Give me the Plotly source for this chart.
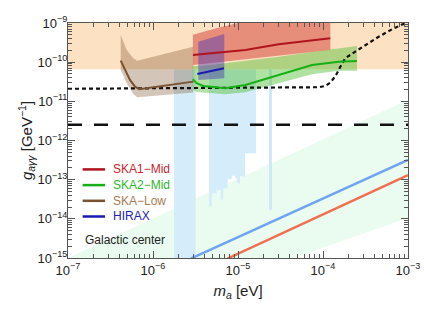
import numpy as np
import plotly.graph_objects as go

# ---- values (log10 of m_a [eV] and g [GeV^-1]) ----
cast_g = -10.18                      # horizontal excluded band (peach) lower edge
haloscope_line_g = -11.60            # long-dashed horizontal line

proj_m = [-7.0, -6.0, -5.0, -4.3, -4.051, -3.973, -3.914, -3.874, -3.835, -3.796,
          -3.738, -3.620, -3.502, -3.345, -3.188, -3.032, -2.95]
proj_g = [-10.68, -10.67, -10.655, -10.645, -10.640, -10.607, -10.523, -10.411, -10.283,
          -10.115, -9.90, -9.73, -9.56, -9.35, -9.16, -9.01, -8.92]

mint_m = [-7.0, -3.0, -3.0, -4.35]
mint_g = [-15.0, -10.96, -13.98, -15.0]

blue1_m = [-5.753, -5.498]
blue1_g = [-15.0, cast_g]
stair_m = [-5.341, -5.309, -5.251, -5.204, -5.173, -5.121, -5.074, -5.035, -5.015, -4.976, -4.918, -4.788]
stair_bottom = [-13.686, -13.344, -13.260, -13.515, -13.217, -12.987, -12.903, -12.962, -13.089, -12.921, -12.324]
thin_m = [-4.635, -4.600]
thin_bottom = -13.77

theory1_m = [-5.55, -3.0]
theory1_g = [-15.01, -12.495]
theory2_m = [-5.13, -3.0]
theory2_g = [-15.02, -12.886]

ska_low_m = [-6.380, -6.329, -6.271, -6.212, -6.161, -5.526]
ska_low_g = [-9.962, -10.199, -10.454, -10.625, -10.691, -10.497]
ska_low_band_m = [-6.380, -6.309, -6.232, -6.185, -5.526]
ska_low_band_hi = [-9.306, -9.689, -9.901, -9.962, -9.605]
ska_low_band_lo = [-10.199, -10.538, -10.811, -10.895, -10.773]

ska1_m = [-5.53, -5.306, -4.914, -4.521, -4.129, -3.914]
ska1_g = [-9.816, -9.773, -9.689, -9.543, -9.434, -9.390]
ska1_band_m = [-5.53, -5.2, -4.8, -4.4, -3.914]
ska1_band_hi = [-9.30, -9.10, -8.90, -8.75, -8.60]
ska1_band_lo = [-10.07, -10.00, -9.90, -9.80, -9.69]

ska2_m = [-5.533, -5.486, -5.408, -5.271, -5.153, -4.914, -4.521, -4.129, -3.815, -3.600]
ska2_g = [-10.436, -10.538, -10.607, -10.633, -10.666, -10.582, -10.327, -10.071, -9.987, -9.969]
ska2_band_hi = [-10.10, -10.10, -10.09, -10.06, -10.03, -9.97, -9.86, -9.74, -9.66, -9.59]
ska2_band_lo = [-10.70, -10.76, -10.79, -10.80, -10.82, -10.77, -10.53, -10.31, -10.22, -10.22]

hirax_m = [-5.479, -5.165]
hirax_g = [-10.301, -10.156]
hirax_band_m = [-5.467, -5.161]
hirax_band_hi = [-9.477, -9.281]
hirax_band_lo = [-10.454, -10.411]

legend_names = ["SKA1\u2212Mid", "SKA2\u2212Mid", "SKA\u2212Low", "HIRAX"]
legend_text_colors = ["#c4262c", "#2cb82c", "#a87a52", "#2424b4"]
legend_line_colors = ["#b0141e", "#16b016", "#7a5232", "#1a1ab0"]
region_label = "Galactic center"

x_ticks = [-7, -6, -5, -4, -3]
y_ticks = [-15, -14, -13, -12, -11, -10, -9]


def p(v):
    return list(10.0 ** np.asarray(v, dtype=float))


def minor_vals(decades):
    return [k * 10.0 ** d for d in decades[:-1] for k in range(2, 10)]


fig = go.Figure()


def poly(m, g, color, line_w=0):
    fig.add_trace(go.Scatter(x=p(m), y=p(g), fill="toself", fillcolor=color, mode="lines",
                             line=dict(width=line_w, color=color), hoverinfo="skip",
                             showlegend=False))


def band(m, hi, lo, color):
    poly(list(m) + list(m)[::-1], list(hi) + list(lo)[::-1], color)


def line(m, g, color, width, dash=None):
    fig.add_trace(go.Scatter(x=p(m), y=p(g), mode="lines",
                             line=dict(color=color, width=width, dash=dash),
                             hoverinfo="skip", showlegend=False))


# mint region
poly(mint_m, mint_g, "#eafcef")
# light blue vertical regions
poly([blue1_m[0], blue1_m[1], blue1_m[1], blue1_m[0]],
     [blue1_g[0], blue1_g[0], blue1_g[1], blue1_g[1]], "#d5ecfa")
sm, sg = [stair_m[0]], [cast_g]
for i, b in enumerate(stair_bottom):
    sm += [stair_m[i], stair_m[i + 1]]
    sg += [b, b]
sm.append(stair_m[-1])
sg.append(cast_g)
poly(sm, sg, "#d5ecfa")
poly([thin_m[0], thin_m[1], thin_m[1], thin_m[0]],
     [thin_bottom, thin_bottom, cast_g, cast_g], "#cfe8f8")
# peach excluded band
poly([-7, -3, -3, -7], [cast_g, cast_g, -8.5, -8.5], "#fde1c3")

# theory lines
line(theory1_m, theory1_g, "#6ea4f2", 2.5)
line(theory2_m, theory2_g, "#f26e50", 2.5)

# sensitivity bands
band(ska_low_band_m, ska_low_band_hi, ska_low_band_lo, "rgba(130,90,50,0.35)")
band(ska1_band_m, ska1_band_hi, ska1_band_lo, "rgba(210,60,50,0.5)")
band(ska2_m, ska2_band_hi, ska2_band_lo, "rgba(80,190,50,0.45)")
band(hirax_band_m, hirax_band_hi, hirax_band_lo, "rgba(70,50,180,0.45)")

# reference lines
line([-7, -3], [haloscope_line_g, haloscope_line_g], "#111111", 2.5, "14px,12px")
line(proj_m, proj_g, "#111111", 2.2, "4px,3px")

# sensitivity curves
line(ska_low_m, ska_low_g, legend_line_colors[2], 2)
line(ska1_m, ska1_g, legend_line_colors[0], 2)
line(ska2_m, ska2_g, legend_line_colors[1], 2)
line(hirax_m, hirax_g, legend_line_colors[3], 2)

# legend drawn inside the plot
ly0, ldy = 0.377, 0.0668
for i, (name, tc, lc) in enumerate(zip(legend_names, legend_text_colors, legend_line_colors)):
    yy = ly0 - i * ldy
    fig.add_shape(type="line", xref="x domain", yref="y domain", x0=0.043, x1=0.109,
                  y0=yy, y1=yy, line=dict(color=lc, width=2.5))
    fig.add_annotation(xref="x domain", yref="y domain", x=0.126, y=yy, text=name,
                       showarrow=False, xanchor="left", yanchor="middle",
                       font=dict(size=12, color=tc))
fig.add_annotation(xref="x domain", yref="y domain", x=0.043, y=0.077, text=region_label,
                   showarrow=False, xanchor="left", yanchor="middle",
                   font=dict(size=12, color="#222222"))

axis_common = dict(type="log", showline=True, linecolor="#555555", linewidth=1,
                   mirror="ticks", ticks="inside", ticklen=7, tickcolor="#555555",
                   showgrid=False, zeroline=False, automargin=False,
                   tickfont=dict(size=13, color="#222222"))

fig.update_xaxes(range=[-7, -3], tickmode="array", tickvals=p(x_ticks),
                 ticktext=["10<sup>\u2212%d</sup>" % -t for t in x_ticks],
                 minor=dict(ticks="inside", ticklen=4, tickcolor="#555555", showgrid=False,
                            tickmode="array", tickvals=minor_vals(x_ticks)),
                 title=dict(text="<i>m<sub>a</sub></i> [eV]", font=dict(size=15, color="#222222"),
                            standoff=8), **axis_common)
fig.update_yaxes(range=[-15, -9], tickmode="array", tickvals=p(y_ticks),
                 ticktext=["10<sup>\u2212%d</sup>" % -t for t in y_ticks],
                 ticklabelstandoff=-3,
                 minor=dict(ticks="inside", ticklen=4, tickcolor="#555555", showgrid=False,
                            tickmode="array", tickvals=minor_vals(y_ticks)),
                 title=dict(text="<i>g<sub>a\u03b3\u03b3</sub></i> [GeV<sup>\u22121</sup>]",
                            font=dict(size=15, color="#222222"), standoff=0), **axis_common)

fig.update_layout(width=424, height=311, margin=dict(l=68, r=16, t=23, b=53, autoexpand=False),
                  paper_bgcolor="white", plot_bgcolor="white",
                  font=dict(family="Liberation Sans, Arial, sans-serif", color="#222222"),
                  showlegend=False)

fig.write_html("out.html", config={"displayModeBar": False},
               post_script="document.body.style.margin='0';document.body.style.padding='0';")
